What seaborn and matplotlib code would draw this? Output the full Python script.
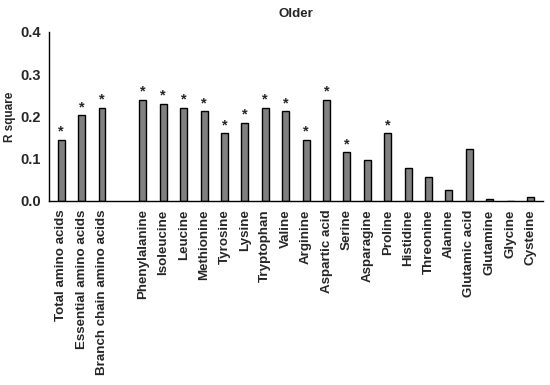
import numpy as np
import pandas as pd
import matplotlib
matplotlib.use("Agg")
import matplotlib.pyplot as plt
import seaborn as sns

# amino acids, in plotting order (a blank spacer slot goes after the first three)
categories = ["Total amino acids", "Essential amino acids", "Branch chain amino acids",
              "Phenylalanine", "Isoleucine", "Leucine", "Methionine", "Tyrosine",
              "Lysine", "Tryptophan", "Valine", "Arginine", "Aspartic acid", "Serine",
              "Asparagine", "Proline", "Histidine", "Threonine", "Alanine",
              "Glutamic acid", "Glutamine", "Glycine", "Cysteine"]
r_square = [0.145, 0.203, 0.221,
            0.240, 0.230, 0.221, 0.212, 0.160,
            0.185, 0.221, 0.212, 0.145, 0.240, 0.115,
            0.096, 0.160, 0.078, 0.057, 0.025,
            0.122, 0.004, 0.001, 0.010]
significant = [True, True, True,
               True, True, True, True, True,
               True, True, True, True, True, True,
               False, True, False, False, False,
               False, False, False, False]

order = categories[:3] + [" "] + categories[3:]

df = pd.DataFrame({"AminoAcid": categories, "R2": r_square, "sig": significant})

sns.set_style("white")
plt.rcParams["font.family"] = ["Liberation Sans", "DejaVu Sans"]
plt.rcParams["font.weight"] = "bold"

fig = plt.figure(figsize=(5.5, 3.85), dpi=100)
ax = fig.add_axes([0.089, 0.478, 0.898, 0.439])

sns.barplot(data=df, x="AminoAcid", y="R2", order=order, color="#808080",
            edgecolor="black", linewidth=1.0, width=0.34, saturation=1, ax=ax)

# asterisks over significant bars
for name, val, sig in zip(categories, r_square, significant):
    if sig:
        ax.text(order.index(name), val + 0.002, "*", ha="center", va="bottom",
                fontsize=10.5, fontweight="bold")

ax.set_ylim(0, 0.4)
ax.set_xlim(-0.6, len(order) - 0.4)
ax.set_yticks([0.0, 0.1, 0.2, 0.3, 0.4])
ax.set_yticklabels(["0.0", "0.1", "0.2", "0.3", "0.4"], fontsize=10.5, fontweight="bold")
ax.set_xticks(range(len(order)))
ax.set_xticklabels(order, rotation=90, fontsize=9.6, fontweight="bold")
ax.tick_params(axis="x", length=0, pad=6)
ax.tick_params(axis="y", length=4, width=1, direction="out", color="black", pad=2)
ax.set_xlabel("")
ax.set_ylabel("R square", fontsize=8.5, fontweight="bold", labelpad=3)
ax.set_title("Older", fontsize=9.6, fontweight="bold", pad=11)

sns.despine(ax=ax)
for s in ["left", "bottom"]:
    ax.spines[s].set_color("black")
    ax.spines[s].set_linewidth(1.0)

fig.savefig("out.png", dpi=100)
